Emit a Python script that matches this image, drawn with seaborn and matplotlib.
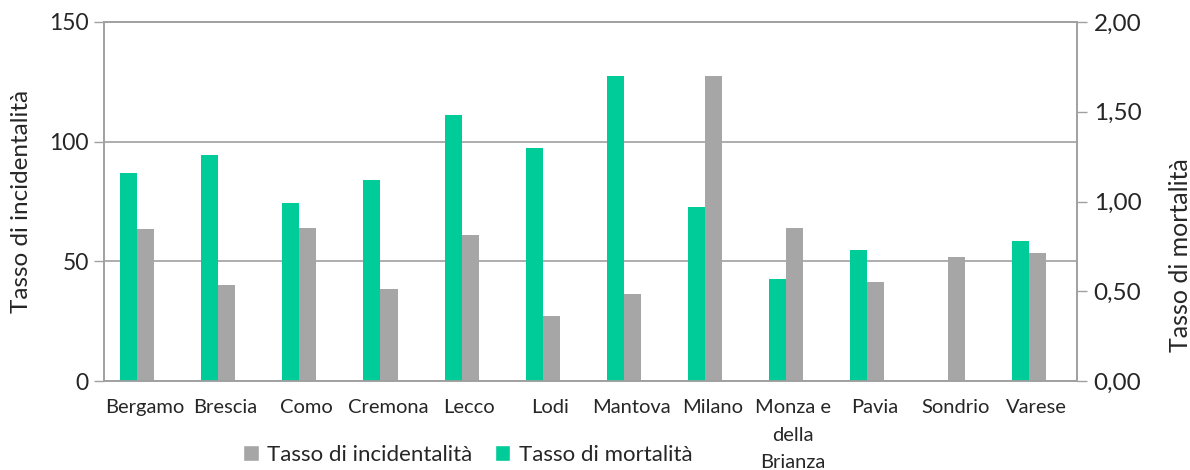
import matplotlib
matplotlib.use("Agg")
import matplotlib.pyplot as plt
from matplotlib.patches import Patch
from matplotlib.ticker import FuncFormatter, FixedLocator
import pandas as pd
import seaborn as sns

province = ["Bergamo", "Brescia", "Como", "Cremona", "Lecco", "Lodi", "Mantova",
            "Milano", "Monza e\ndella\nBrianza", "Pavia", "Sondrio", "Varese"]
incidentalita = [63.4, 40.0, 64.0, 38.3, 60.9, 27.2, 36.3, 127.4, 64.0, 41.5, 51.9, 53.5]
mortalita = [1.16, 1.26, 0.99, 1.12, 1.48, 1.30, 1.70, 0.97, 0.57, 0.73, 0.00, 0.78]

LAB_INC = "Tasso di incidentalità"
LAB_MOR = "Tasso di mortalità"
GREY = "#A6A6A6"
GREEN = "#00CC99"
AXC = "#A0A0A0"

sns.set_theme(style="white")
plt.rcParams["font.family"] = ["Lato", "DejaVu Sans"]

df_inc = pd.DataFrame({"Provincia": province, "valore": incidentalita, "serie": LAB_INC})
df_mor = pd.DataFrame({"Provincia": province, "valore": mortalita, "serie": LAB_MOR})
hue_order = [LAB_MOR, LAB_INC]
pal = {LAB_INC: GREY, LAB_MOR: GREEN}

fig = plt.figure(figsize=(11.9, 4.7), dpi=100)
ax = fig.add_axes([104 / 1190, 89 / 470, (1077 - 104) / 1190, (381 - 22) / 470])
ax2 = ax.twinx()

sns.barplot(data=df_inc, x="Provincia", y="valore", hue="serie", hue_order=hue_order,
            palette=pal, saturation=1, width=0.42, gap=0, dodge=True, errorbar=None,
            legend=False, linewidth=0, ax=ax)
sns.barplot(data=df_mor, x="Provincia", y="valore", hue="serie", hue_order=hue_order,
            palette=pal, saturation=1, width=0.42, gap=0, dodge=True, errorbar=None,
            legend=False, linewidth=0, ax=ax2)

# Excel-style category slots: pair of bars sits a bit left of the slot centre
shift = 0.09
n = len(province)
for a in (ax, ax2):
    a.set_xlim(-0.5 + shift, n - 0.5 + shift)
ax.set_ylim(0, 150)
ax2.set_ylim(0, 2.0)

ax.set_xticks([i + shift for i in range(n)])
ax.set_xticklabels(province, fontsize=14.5, va="top", linespacing=1.75)
ax.xaxis.set_minor_locator(FixedLocator([i - 0.5 + shift for i in range(n + 1)]))
ax.tick_params(axis="x", which="major", length=0, pad=13)
ax.tick_params(axis="x", which="minor", length=6, width=1, color=AXC, direction="out")

ax.set_yticks([0, 50, 100, 150])
ax.tick_params(axis="y", length=7, width=1, color=AXC, direction="out", labelsize=16.5, pad=4)
ax2.set_yticks([0, 0.5, 1.0, 1.5, 2.0])
ax2.yaxis.set_major_formatter(FuncFormatter(lambda v, p: f"{v:.2f}".replace(".", ",")))
ax2.tick_params(axis="y", length=7, width=1, color=AXC, direction="out", labelsize=17.5, pad=5)

ax.yaxis.grid(True, color=AXC, linewidth=1.2)
ax.set_axisbelow(True)
ax.set_xlabel("")
ax.set_ylabel(LAB_INC, fontsize=17.5, labelpad=12)
ax2.set_xlabel("")
ax2.set_ylabel(LAB_MOR, fontsize=18, labelpad=20)
ax2.yaxis.label.set_y(0.35)

for a in (ax, ax2):
    for s in a.spines.values():
        s.set_color(AXC)
        s.set_linewidth(1.2)

handles = [Patch(facecolor=GREY, label=LAB_INC), Patch(facecolor=GREEN, label=LAB_MOR)]
fig.legend(handles=handles, loc="center", bbox_to_anchor=(468 / 1190, 1 - 455 / 470),
           ncol=2, frameon=False, fontsize=16, handlelength=0.7, handleheight=0.7,
           handletextpad=0.4, columnspacing=1.0)

fig.savefig("out.png", dpi=100)
